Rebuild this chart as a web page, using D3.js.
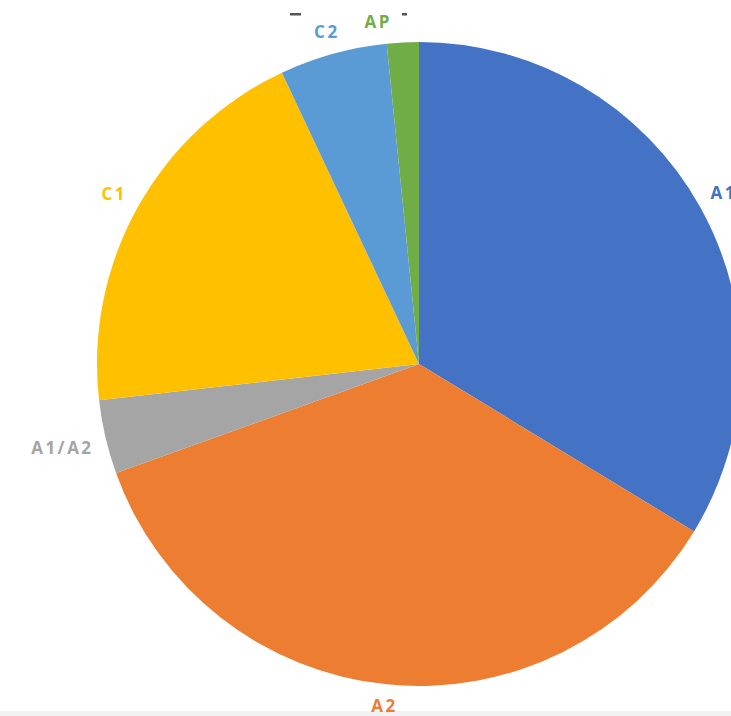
<!DOCTYPE html>
<html>
<head>
<meta charset="utf-8">
<script src="https://cdn.jsdelivr.net/npm/d3@7"></script>
<style>
  html, body { margin: 0; padding: 0; background: #ffffff; }
  svg { display: block; }
</style>
</head>
<body>
<svg id="chart" width="731" height="716"></svg>
<script>
const categories = ["A1", "A2", "A1/A2", "C1", "C2", "AP"];
const values = [33.7, 35.8, 3.7, 19.8, 5.4, 1.6];
const colors = ["#4472C4", "#ED7D31", "#A5A5A5", "#FFC000", "#5B9BD5", "#70AD47"];

const width = 731, height = 716;
const cx = 419, cy = 364, radius = 322;

const svg = d3.select("#chart");

// faint bottom band of the original picture
svg.append("rect").attr("x", 0).attr("y", 711).attr("width", width).attr("height", 5).attr("fill", "#f2f2f2");

// remnants of a cropped title at the top
const marks = svg.append("g").attr("class", "title-remnant");
marks.append("rect").attr("x", 290).attr("y", 13).attr("width", 11).attr("height", 2.5).attr("fill", "#555");
marks.append("rect").attr("x", 402).attr("y", 13).attr("width", 5).attr("height", 2.5).attr("fill", "#555");

const data = categories.map((c, i) => ({ name: c, value: values[i], color: colors[i] }));

const pie = d3.pie().value(d => d.value).sort(null);
const arc = d3.arc().innerRadius(0).outerRadius(radius);
const arcs = pie(data);

const g = svg.append("g").attr("transform", `translate(${cx},${cy})`);

g.selectAll("path.slice")
  .data(arcs)
  .join("path")
  .attr("class", "slice")
  .attr("d", arc)
  .attr("fill", d => d.data.color);

const gap = 12;
const labels = g.selectAll("text.lbl")
  .data(arcs)
  .join("text")
  .attr("class", "lbl")
  .attr("text-anchor", "middle")
  .attr("dominant-baseline", "central")
  .style("font-family", "'Open Sans', sans-serif")
  .style("font-weight", "700")
  .style("font-size", "17px")
  .style("letter-spacing", "2.5px")
  .attr("fill", d => d.data.color)
  .text(d => d.data.name);

// obstacle boxes (in chart-group coordinates) from the title remnant marks
const obstacles = [];
marks.selectAll("rect").each(function() {
  const b = this.getBBox();
  obstacles.push({ x0: b.x - cx - 10, x1: b.x + b.width - cx + 10 });
});

labels.each(function(d) {
  const bb = this.getBBox();
  const hw = bb.width / 2, hh = bb.height / 2 * 0.7;
  const a = (d.startAngle + d.endAngle) / 2;
  const s = Math.sin(a), c = Math.cos(a);
  const ext = Math.abs(hw * s) + Math.abs(hh * c);
  const r = radius + gap + ext;
  let x = r * s;
  const y = -r * c;
  // keep labels near the top clear of the remnant marks
  if (y < -radius + 10) {
    obstacles.forEach(o => {
      if (x + hw > o.x0 && x - hw < o.x1) x = o.x0 - hw;
    });
  }
  d3.select(this).attr("x", x).attr("y", y);
});
</script>
</body>
</html>
